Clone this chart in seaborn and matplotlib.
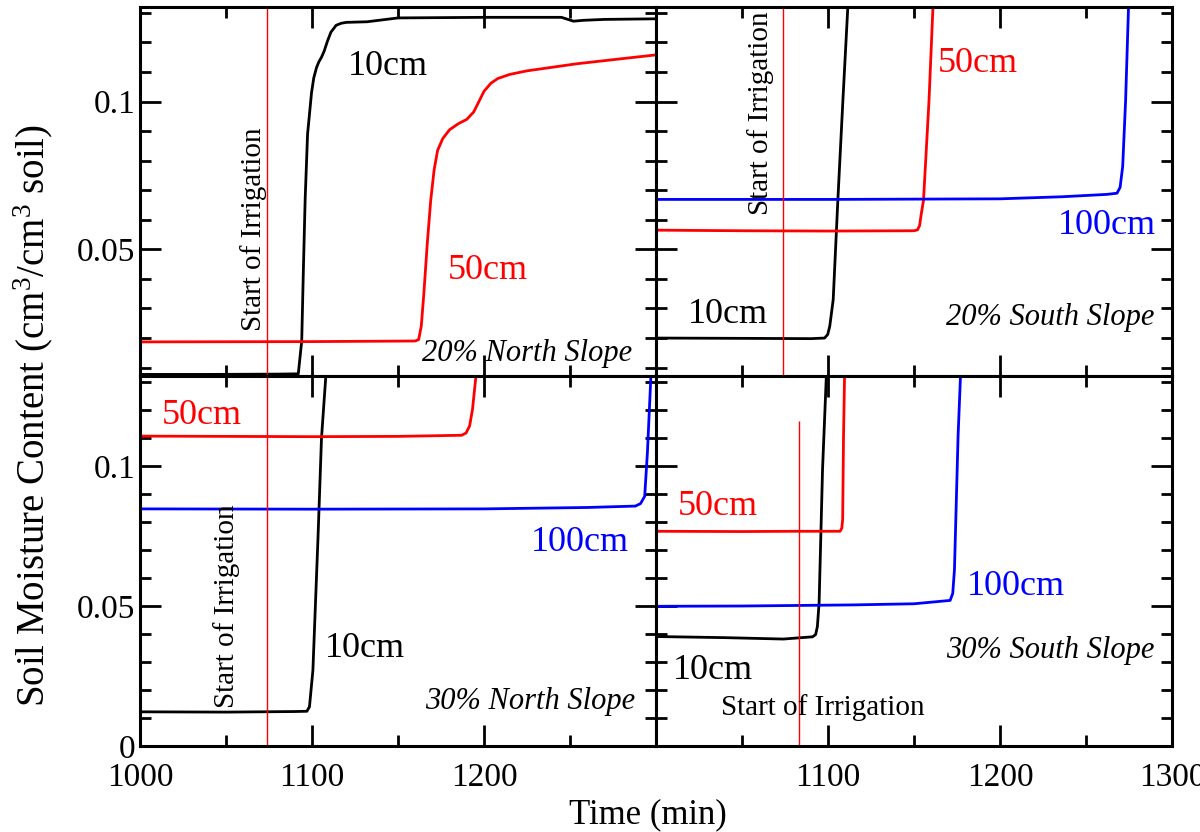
import numpy as np
import pandas as pd
import seaborn as sns
import matplotlib.pyplot as plt
from matplotlib.ticker import MultipleLocator

sns.set_style('ticks')
plt.rcParams['font.family'] = ['Liberation Serif', 'DejaVu Serif']
plt.rcParams['mathtext.fontset'] = 'custom'
plt.rcParams['mathtext.rm'] = 'Liberation Serif'
plt.rcParams['mathtext.it'] = 'Liberation Serif:italic'
for key in ['text.color', 'axes.labelcolor', 'xtick.color', 'ytick.color', 'axes.edgecolor']:
    plt.rcParams[key] = 'black'

# irrigation start (min)
irrigation_start = 1074
irrigation_start_s30 = 1083

# 20% North Slope
n20_10_t = [1000, 1040, 1080, 1092, 1094, 1095, 1096, 1097.4, 1099.7, 1101, 1102.6, 1104, 1105.5, 1107, 1109, 1111, 1114, 1117, 1120, 1132, 1150, 1200, 1245, 1252, 1258, 1270, 1300]
n20_10_v = [0.0077, 0.0077, 0.0078, 0.0079, 0.019, 0.044, 0.067, 0.089, 0.103, 0.108, 0.1115, 0.1135, 0.115, 0.117, 0.1205, 0.1235, 0.1258, 0.1265, 0.1268, 0.127, 0.1283, 0.1285, 0.1285, 0.1272, 0.1275, 0.1278, 0.128]
n20_50_t = [1000, 1100, 1160, 1162, 1163.5, 1165, 1167, 1169, 1171, 1173, 1176, 1180, 1185, 1190, 1194, 1197, 1200, 1204, 1208, 1215, 1225, 1254, 1280, 1300]
n20_50_v = [0.0187, 0.0188, 0.0190, 0.0195, 0.024, 0.035, 0.052, 0.0666, 0.077, 0.0835, 0.0875, 0.0905, 0.0925, 0.094, 0.0965, 0.1, 0.1035, 0.1062, 0.1078, 0.1092, 0.1104, 0.1128, 0.1145, 0.1158]

# 20% South Slope
s20_10_t = [1000, 1050, 1090, 1098, 1099.8, 1101, 1103, 1105.7, 1108.6, 1111.5, 1113]
s20_10_v = [0.0200, 0.0199, 0.0198, 0.0200, 0.0212, 0.024, 0.033, 0.0666, 0.100, 0.132, 0.145]
s20_50_t = [1000, 1050, 1100, 1150, 1152, 1153.2, 1154.2, 1155.5, 1158.7, 1161, 1162]
s20_50_v = [0.0565, 0.0563, 0.0562, 0.0563, 0.0566, 0.058, 0.062, 0.0666, 0.1003, 0.132, 0.145]
s20_100_t = [1000, 1100, 1200, 1236, 1262, 1268, 1269.8, 1271.3, 1273, 1274.7, 1276]
s20_100_v = [0.0669, 0.0669, 0.0671, 0.0678, 0.0686, 0.069, 0.071, 0.078, 0.1003, 0.132, 0.145]

# 30% North Slope
n30_10_t = [1000, 1050, 1090, 1097, 1098.5, 1100.5, 1103.5, 1105.5, 1108, 1109]
n30_10_v = [0.0122, 0.0121, 0.0123, 0.0124, 0.014, 0.027, 0.075, 0.110, 0.132, 0.145]
n30_50_t = [1000, 1050, 1100, 1150, 1187, 1189.5, 1191.6, 1193.3, 1195.3, 1196]
n30_50_v = [0.1107, 0.1106, 0.1105, 0.1106, 0.1110, 0.1118, 0.1143, 0.1203, 0.1322, 0.145]
n30_100_t = [1000, 1100, 1200, 1260, 1288, 1291, 1293.4, 1295, 1297, 1298]
n30_100_v = [0.0847, 0.0846, 0.0847, 0.0852, 0.0857, 0.0866, 0.0892, 0.105, 0.132, 0.145]

# 30% South Slope
s30_10_t = [1000, 1040, 1074, 1091, 1092.8, 1093.8, 1094.8, 1096.8, 1099, 1100]
s30_10_v = [0.0391, 0.0387, 0.0382, 0.0390, 0.0398, 0.0427, 0.0511, 0.0988, 0.132, 0.145]
s30_50_t = [1000, 1050, 1080, 1107, 1108, 1108.5, 1109, 1109.6, 1110]
s30_50_v = [0.0767, 0.0766, 0.0767, 0.0767, 0.0778, 0.0809, 0.1107, 0.132, 0.145]
s30_100_t = [1000, 1050, 1115, 1150, 1171, 1172.5, 1173.5, 1175.6, 1177, 1178]
s30_100_v = [0.0499, 0.0500, 0.0504, 0.0508, 0.052, 0.0545, 0.063, 0.1107, 0.132, 0.145]

colors = {'10cm': 'black', '50cm': 'red', '100cm': 'blue'}

panels = [
    ('20% North Slope', [('10cm', n20_10_t, n20_10_v), ('50cm', n20_50_t, n20_50_v)]),
    ('20% South Slope', [('10cm', s20_10_t, s20_10_v), ('50cm', s20_50_t, s20_50_v), ('100cm', s20_100_t, s20_100_v)]),
    ('30% North Slope', [('10cm', n30_10_t, n30_10_v), ('50cm', n30_50_t, n30_50_v), ('100cm', n30_100_t, n30_100_v)]),
    ('30% South Slope', [('10cm', s30_10_t, s30_10_v), ('50cm', s30_50_t, s30_50_v), ('100cm', s30_100_t, s30_100_v)]),
]

# label positions per panel (x, y) in data units
label_pos = [
    {'10cm': (1144, 0.112), '50cm': (1202, 0.043)},
    {'10cm': (1042, 0.028), '50cm': (1187, 0.113), '100cm': (1262, 0.058)},
    {'10cm': (1131, 0.035), '50cm': (1036, 0.118), '100cm': (1256, 0.0727)},
    {'10cm': (1033, 0.027), '50cm': (1036, 0.0856), '100cm': (1209, 0.057)},
]
slope_pos = [(1286, 0.0148), (1290, 0.027), (1288, 0.0158), (1290, 0.034)]

fig, axes = plt.subplots(2, 2, figsize=(12, 8.32), dpi=100)
fig.subplots_adjust(left=0.1167, right=0.9767, top=0.9916, bottom=0.1034, wspace=0, hspace=0)

for i, ax in enumerate(axes.flat):
    title, series = panels[i]
    for depth, t, v in series:
        df = pd.DataFrame({'t': t, 'v': v})
        sns.lineplot(data=df, x='t', y='v', ax=ax, color=colors[depth], lw=2.0,
                     sort=False, estimator=None)
        lx, ly = label_pos[i][depth]
        ax.text(lx, ly, depth, color=colors[depth], fontsize=26, ha='center', va='center')
    sx, sy = slope_pos[i]
    ax.text(sx, sy, title, fontsize=22, style='italic', ha='right', va='center')

    row = i // 2
    ylo = 0.007 if row == 0 else 0.0
    yhi = 0.132
    ax.set_xlim(1000, 1300)
    ax.set_ylim(ylo, yhi)

    # start of irrigation marker
    if i == 3:
        ax.errorbar([irrigation_start], [(ylo + yhi) / 2], yerr=[(yhi - ylo) / 2],
                    color='red', elinewidth=0, capsize=6, capthick=1, fmt='none', clip_on=False)
        ax.vlines(irrigation_start_s30, 0, 0.116, color='red', lw=1)
        ax.text(1097, 0.0136, 'Start of Irrigation', fontsize=21, ha='center', va='center')
    else:
        ax.errorbar([irrigation_start], [(ylo + yhi) / 2], yerr=[(yhi - ylo) / 2],
                    color='red', elinewidth=1, capsize=6, capthick=1, fmt='none', clip_on=False)
        txt_pos = [(1066, 0.0569), (1061, 0.096), (1050, 0.0498)][i]
        ax.text(txt_pos[0], txt_pos[1], 'Start of Irrigation', fontsize=21,
                rotation=90, ha='center', va='center')

    ax.xaxis.set_major_locator(MultipleLocator(100))
    ax.xaxis.set_minor_locator(MultipleLocator(50))
    ax.yaxis.set_major_locator(MultipleLocator(0.05))
    ax.yaxis.set_minor_locator(MultipleLocator(0.01))
    ax.tick_params(which='both', direction='in', top=True, right=True, width=2, labelsize=24)
    ax.tick_params(which='major', length=15)
    ax.tick_params(which='minor', length=8)
    for s in ax.spines.values():
        s.set_linewidth(2.2)
        s.set_color('black')
    ax.set_xlabel('')
    ax.set_ylabel('')

    if i % 2 == 0:
        ax.yaxis.set_major_formatter(plt.FuncFormatter(lambda v, p: '0' if abs(v) < 1e-9 else f'{v:g}'))
    else:
        ax.set_yticklabels([])
    if row == 0:
        ax.set_xticklabels([])
    ax.tick_params(axis='x', pad=12)

axes[1, 0].set_xticks([1000, 1100, 1200, 1300])
axes[1, 0].set_xticklabels(['1000', '1100', '1200', ''])
axes[1, 1].set_xticks([1000, 1100, 1200, 1300])
axes[1, 1].set_xticklabels(['', '1100', '1200', '1300'])

fig.text(0.028, 0.5, 'Soil Moisture Content (cm$^3$/cm$^3$ soil)', rotation=90,
         fontsize=28, ha='center', va='center')
fig.text(0.54, 0.021, 'Time (min)', fontsize=25, ha='center', va='center')

fig.savefig('out.png', dpi=100)
